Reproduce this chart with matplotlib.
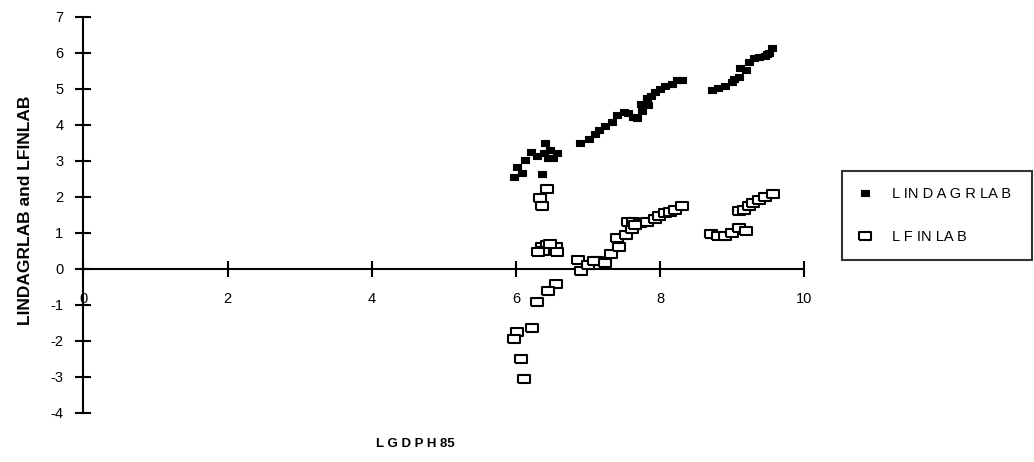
import matplotlib
matplotlib.use('Agg')
import matplotlib.pyplot as plt

# ---- data ----
lindagrlab_x = [5.97, 6.08, 6.01, 6.36, 6.12, 6.21, 6.29, 6.41, 6.39, 6.48, 6.57, 6.52, 6.44,
                6.89, 7.01, 7.10, 7.15, 7.24, 7.33, 7.40, 7.50, 7.56, 7.68, 7.62, 7.75, 7.73,
                7.84, 7.82, 7.87, 7.93, 8.00, 8.07, 8.17, 8.24, 8.31,
                8.72, 8.81, 8.90, 9.00, 9.02, 9.09, 9.11, 9.20, 9.23, 9.30, 9.37, 9.46, 9.48,
                9.51, 9.56]
lindagrlab_y = [2.55, 2.66, 2.83, 2.64, 3.01, 3.24, 3.12, 3.48, 3.20, 3.29, 3.20, 3.08, 3.06,
                3.50, 3.61, 3.73, 3.85, 3.96, 4.08, 4.26, 4.35, 4.31, 4.17, 4.20, 4.38, 4.57,
                4.54, 4.73, 4.79, 4.91, 5.00, 5.07, 5.12, 5.23, 5.23,
                4.96, 5.02, 5.07, 5.19, 5.28, 5.33, 5.56, 5.53, 5.74, 5.84, 5.87, 5.90, 5.96,
                6.00, 6.14]

lfinlab_x = [6.43, 6.33, 6.36, 6.36, 6.43, 6.55, 6.38, 6.57, 6.31, 6.48,
             6.55, 6.45, 6.29, 6.22, 6.01, 5.97, 6.07, 6.11,
             6.86, 6.91, 7.00, 7.13, 7.08, 7.24, 7.32, 7.43, 7.41, 7.53, 7.61, 7.56,
             7.63, 7.72, 7.82, 7.93, 7.99, 8.07, 8.14, 8.21, 8.30, 7.66,
             8.71, 8.81, 8.90, 9.00, 9.09, 9.20, 9.09, 9.16, 9.23, 9.29, 9.37, 9.46, 9.57]
lfinlab_y = [2.21, 1.97, 1.74, 0.61, 0.65, 0.59, 0.50, 0.47, 0.47, 0.68,
             -0.43, -0.62, -0.94, -1.66, -1.75, -1.97, -2.50, -3.08,
             0.24, -0.07, 0.10, 0.22, 0.20, 0.15, 0.40, 0.60, 0.84, 0.93, 1.09, 1.30,
             1.30, 1.27, 1.30, 1.37, 1.46, 1.55, 1.58, 1.64, 1.74, 1.20,
             0.96, 0.91, 0.91, 1.00, 1.14, 1.04, 1.61, 1.64, 1.74, 1.81, 1.90, 1.99, 2.07]

x_ticks = [0, 2, 4, 6, 8, 10]
y_ticks = [-4, -3, -2, -1, 0, 1, 2, 3, 4, 5, 6, 7]
series_labels = ["L IN D A G R LA B", "L F IN LA B"]
x_label = "L G D P H 85"
y_label = "LINDAGRLAB and LFINLAB"

# ---- style ----
plt.rcParams['font.family'] = ['Liberation Sans', 'DejaVu Sans']
plt.rcParams['axes.unicode_minus'] = False

fig = plt.figure(figsize=(10.34, 4.62), dpi=100)
ax = fig.add_axes([0.0807, 0.107, 0.697, 0.857])

rect = [(-1, -0.72), (1, -0.72), (1, 0.72), (-1, 0.72), (-1, -0.72)]
ax.plot(lindagrlab_x, lindagrlab_y, linestyle='none', marker=rect, ms=6,
        mfc='black', mec='black', mew=0.8, label=series_labels[0], zorder=3)
ax.plot(lfinlab_x, lfinlab_y, linestyle='none', marker=rect, ms=8,
        mfc='white', mec='black', mew=1.5, label=series_labels[1], zorder=3)

ax.set_xlim(0, 10)
ax.set_ylim(-4, 7)
ax.set_xticks(x_ticks)
ax.set_yticks(y_ticks)
ax.set_xticklabels([str(t) for t in x_ticks])
ax.set_yticklabels([str(t) for t in y_ticks])

for s in ['top', 'right']:
    ax.spines[s].set_visible(False)
ax.spines['bottom'].set_position(('data', 0))
ax.spines['left'].set_position(('data', 0))
for s in ['bottom', 'left']:
    ax.spines[s].set_linewidth(1.5)
    ax.spines[s].set_color('black')

ax.tick_params(axis='both', direction='inout', length=11, width=1.5,
               colors='black', labelsize=10.5)
ax.tick_params(axis='x', pad=11)
ax.tick_params(axis='y', pad=9)
ax.patch.set_alpha(0)

fig.text(0.025, 0.545, y_label, rotation=90, ha='center', va='center',
         fontsize=12.5, fontweight='bold')
fig.text(0.402, 0.04, x_label, ha='center', va='center', fontsize=9.5,
         fontweight='bold')

leg = fig.legend(loc='upper left', bbox_to_anchor=(0.8143, 0.63, 0.184, 0.0),
                 mode='expand', borderaxespad=0, frameon=True, fancybox=False,
                 edgecolor='black', fontsize=10.5, handlelength=1.0,
                 handletextpad=1.3, borderpad=1.1, labelspacing=2.0,
                 markerscale=1.0)
leg.get_frame().set_linewidth(1.5)

fig.savefig('out.png', dpi=100, facecolor='white')
